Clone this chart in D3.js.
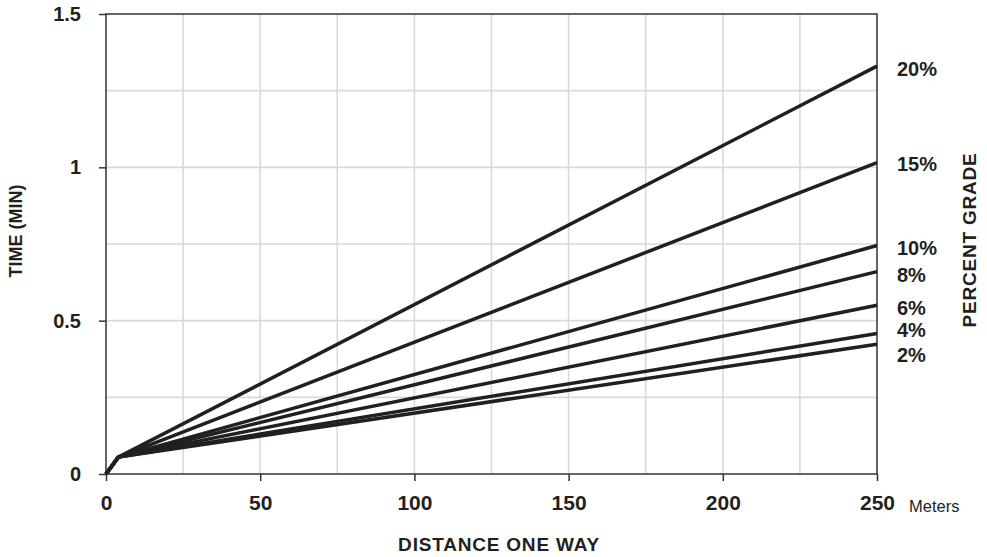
<!DOCTYPE html>
<html><head><meta charset="utf-8">
<script src="https://cdn.jsdelivr.net/npm/d3@7"></script>
<style>
html,body{margin:0;padding:0;background:#fff;}
text{font-family:"Liberation Sans",Arial,Helvetica,sans-serif;fill:#231f20;}
</style></head>
<body><svg id="c" width="987" height="557"></svg>
<script>
// ---- data ----
const distance = [0, 4, 250];            // meters
const grades = ["20%", "15%", "10%", "8%", "6%", "4%", "2%"];
const time20 = [0, 0.055, 1.33];
const time15 = [0, 0.055, 1.015];
const time10 = [0, 0.055, 0.745];
const time8  = [0, 0.055, 0.66];
const time6  = [0, 0.055, 0.55];
const time4  = [0, 0.055, 0.458];
const time2  = [0, 0.055, 0.423];
const labelAt = [1.32, 1.01, 0.737, 0.649, 0.541, 0.469, 0.388]; // label anchor (min)
const xTicks = [0, 50, 100, 150, 200, 250];
const yTicks = [0, 0.5, 1, 1.5];
const xGrid = [25, 50, 75, 100, 125, 150, 175, 200, 225];
const yGrid = [0.25, 0.5, 0.75, 1, 1.25];

const seriesValues = [time20, time15, time10, time8, time6, time4, time2];

// ---- layout ----
const svg = d3.select("#c");
const L = 106, R = 877, T = 14, B = 474;
const x = d3.scaleLinear().domain([0, 250]).range([L, R]);
const y = d3.scaleLinear().domain([0, 1.5]).range([B, T]);
const ink = "#231f20";

// grid
svg.append("g").selectAll("line").data(xGrid).join("line")
  .attr("x1", d => x(d)).attr("x2", d => x(d)).attr("y1", T).attr("y2", B)
  .attr("stroke", "#d9d9d9").attr("stroke-width", 1.6);
svg.append("g").selectAll("line").data(yGrid).join("line")
  .attr("y1", d => y(d)).attr("y2", d => y(d)).attr("x1", L).attr("x2", R)
  .attr("stroke", "#d9d9d9").attr("stroke-width", 1.6);

// frame
svg.append("rect").attr("x", L).attr("y", T).attr("width", R - L).attr("height", B - T)
  .attr("fill", "none").attr("stroke", "#333").attr("stroke-width", 1.5);

// axes
const yAxis = d3.axisLeft(y).tickValues(yTicks).tickSize(7).tickPadding(18)
  .tickFormat(d => d === 0 ? "0" : (d % 1 === 0 ? String(d) : d3.format(".1f")(d)));
const gy = svg.append("g").attr("transform", `translate(${L},0)`).call(yAxis);
gy.select(".domain").remove();
gy.selectAll(".tick line").attr("stroke", "#333").attr("stroke-width", 1.5);
gy.selectAll(".tick text").attr("font-size", 20).attr("font-weight", "bold")
  .attr("fill", ink).attr("font-family", '"Liberation Sans",Arial,sans-serif');

const xAxis = d3.axisBottom(x).tickValues(xTicks).tickSize(7).tickPadding(14);
const gx = svg.append("g").attr("transform", `translate(0,${B})`).call(xAxis);
gx.select(".domain").remove();
gx.selectAll(".tick line").attr("stroke", "#333").attr("stroke-width", 1.5);
gx.selectAll(".tick text").attr("font-size", 21).attr("font-weight", "bold")
  .attr("fill", ink).attr("font-family", '"Liberation Sans",Arial,sans-serif');

// lines
const line = d3.line().x((d, i) => x(distance[i])).y(d => y(d));
svg.append("g").selectAll("path").data(seriesValues).join("path")
  .attr("d", d => line(d)).attr("fill", "none").attr("stroke", ink)
  .attr("stroke-width", 3.5).attr("stroke-linejoin", "round");

// grade labels
svg.append("g").selectAll("text").data(grades).join("text")
  .attr("x", R + 20).attr("y", (d, i) => y(labelAt[i])).attr("dy", "0.35em")
  .attr("font-size", 20).attr("font-weight", "bold").text(d => d);

// titles
svg.append("text").attr("x", 909).attr("y", 512).attr("font-size", 16.5).text("Meters");
svg.append("text").attr("x", 499).attr("y", 551).attr("text-anchor", "middle")
  .attr("font-size", 19).attr("font-weight", "bold").attr("letter-spacing", 0.8).text("DISTANCE ONE WAY");
svg.append("text").attr("transform", "translate(22,231) rotate(-90)").attr("text-anchor", "middle")
  .attr("font-size", 18).attr("font-weight", "bold").text("TIME (MIN)");
svg.append("text").attr("transform", "translate(976,240) rotate(-90)").attr("text-anchor", "middle")
  .attr("font-size", 19).attr("font-weight", "bold").attr("letter-spacing", 0.8).text("PERCENT GRADE");
</script></body></html>
